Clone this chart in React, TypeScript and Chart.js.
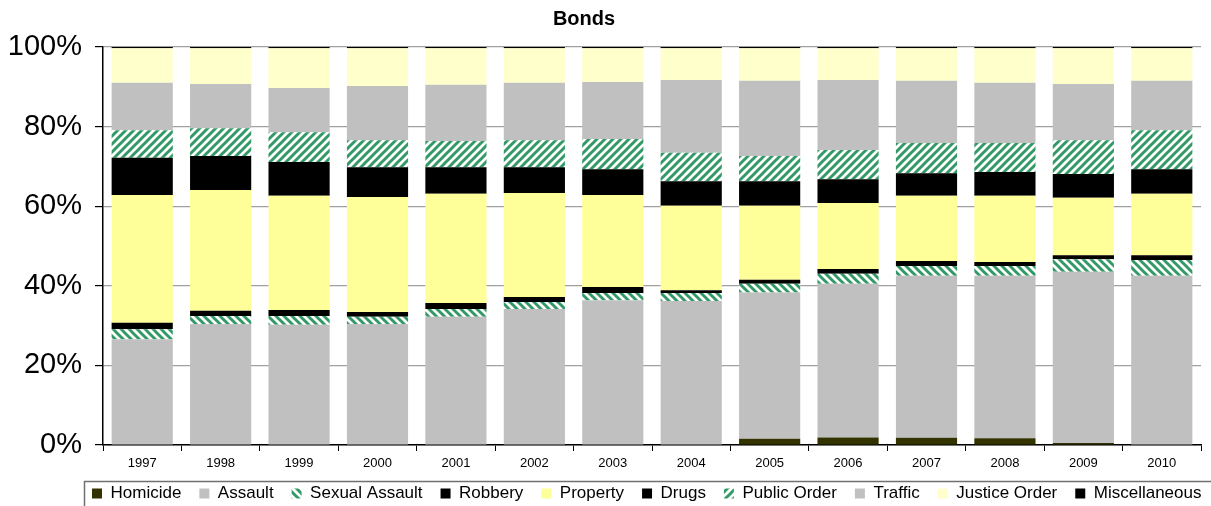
import React, { useEffect, useRef } from "react";
import { Chart, registerables } from "chart.js";

Chart.register(...registerables);

const years = ["1997","1998","1999","2000","2001","2002","2003","2004","2005","2006","2007","2008","2009","2010"];
const homicide = [0,0,0,0,0,0,0,0,1.6,1.9,1.8,1.7,0.5,0.1];
const assault = [26.6,30.4,30.2,30.4,32.2,34.2,36.4,36.2,36.7,38.6,40.7,40.8,43.0,42.4];
const sexualAssault = [2.5,2.0,2.2,1.8,2.0,1.7,1.8,2.0,2.2,2.5,2.5,2.5,3.2,4.0];
const robbery = [1.6,1.3,1.5,1.2,1.5,1.3,1.5,0.7,1.0,1.2,1.2,1.0,1.0,1.2];
const property = [32.1,30.4,28.7,28.9,27.4,26.1,23.1,21.2,18.6,16.6,16.4,16.6,14.4,15.4];
const drugs = [9.4,8.5,8.5,7.5,6.7,6.5,6.5,6.2,6.2,6.0,5.7,6.0,6.0,6.2];
const publicOrder = [6.9,7.0,7.5,6.8,6.6,6.8,7.6,7.1,6.3,7.3,7.6,7.3,8.5,9.8];
const traffic = [11.9,11.1,11.1,13.6,14.1,14.4,14.3,18.3,18.9,17.6,15.6,15.1,14.1,12.4];
const justiceOrder = [8.7,9.0,10.0,9.5,9.2,8.7,8.5,8.0,8.2,8.0,8.2,8.7,9.0,8.2];
const miscellaneous = [0.3,0.3,0.3,0.3,0.3,0.3,0.3,0.3,0.3,0.3,0.3,0.3,0.3,0.3];
const yTicks = [0,20,40,60,80,100];
const chartTitle = "Bonds";

const FONT = "'Liberation Sans', Arial, sans-serif";

function makeStripe(up: boolean): CanvasPattern | string {
  const c = document.createElement("canvas");
  c.width = 8;
  c.height = 8;
  const ctx = c.getContext("2d");
  if (!ctx) return "#339966";
  ctx.fillStyle = "#ffffff";
  ctx.fillRect(0, 0, 8, 8);
  ctx.strokeStyle = "#339966";
  ctx.lineWidth = 3;
  for (let k = -16; k <= 16; k += 8) {
    ctx.beginPath();
    if (up) {
      ctx.moveTo(k - 4, 12);
      ctx.lineTo(k + 12, -4);
    } else {
      ctx.moveTo(k - 4, -4);
      ctx.lineTo(k + 12, 12);
    }
    ctx.stroke();
  }
  const p = ctx.createPattern(c, "repeat");
  return p || "#339966";
}

const layoutTweaks = {
  id: "layoutTweaks",
  beforeLayout(chart: any) {
    const lg = chart.legend;
    if (lg && !lg.__wrapped) {
      const orig = lg.fit.bind(lg);
      lg.fit = function () {
        orig();
        this.height = 31;
      };
      lg.__wrapped = true;
    }
  },
  afterLayout(chart: any) {
    const lg = chart.legend;
    if (!lg) return;
    lg.top = 467;
    lg.bottom = 540;
    lg.height = 73;
    lg.left = 74;
    lg.right = 1320;
    lg.width = 1246;
  },
  afterDraw(chart: any) {
    const ctx = chart.ctx;
    ctx.save();
    ctx.strokeStyle = "#707070";
    ctx.lineWidth = 1.5;
    ctx.strokeRect(84.5, 481.5, 1160, 40);
    ctx.fillStyle = "#000";
    ctx.font = "bold 20px " + FONT;
    ctx.textAlign = "center";
    ctx.textBaseline = "alphabetic";
    ctx.fillText(chartTitle, 584, 25);
    ctx.restore();
  },
};

export default function App() {
  const ref = useRef<HTMLCanvasElement | null>(null);
  useEffect(() => {
    document.body.style.margin = "0";
    if (!ref.current) return;
    const saPat = makeStripe(false);
    const poPat = makeStripe(true);
    const mk = (label: string, data: number[], color: any) => ({
      label,
      data,
      backgroundColor: color,
      borderWidth: 0,
      categoryPercentage: 1,
      barPercentage: 0.78,
    });
    const chart = new Chart(ref.current, {
      type: "bar",
      data: {
        labels: years,
        datasets: [
          mk("Homicide", homicide, "#333300"),
          mk("Assault", assault, "#C0C0C0"),
          mk("Sexual Assault", sexualAssault, saPat),
          mk("Robbery", robbery, "#000000"),
          mk("Property", property, "#FFFF99"),
          mk("Drugs", drugs, "#000000"),
          mk("Public Order", publicOrder, poPat),
          mk("Traffic", traffic, "#C0C0C0"),
          mk("Justice Order", justiceOrder, "#FFFFCC"),
          mk("Miscellaneous", miscellaneous, "#000000"),
        ],
      },
      plugins: [layoutTweaks],
      options: {
        animation: false,
        responsive: false,
        maintainAspectRatio: false,
        layout: { padding: { left: 0, right: 10, top: 47, bottom: 0 } },
        plugins: {
          title: { display: false },
          legend: {
            position: "bottom",
            align: "start",
            labels: {
              color: "#000",
              boxWidth: 10,
              boxHeight: 10,
              padding: 18,
              font: { family: FONT, size: 17 },
            },
          },
          tooltip: { enabled: false },
        },
        scales: {
          x: {
            stacked: true,
            afterFit: (axis: any) => {
              axis.height = 30;
            },
            grid: {
              display: true,
              drawOnChartArea: true,
              drawTicks: true,
              tickLength: 6,
              color: (ctx: any) => (ctx.index === years.length ? "#A0A0A0" : "rgba(0,0,0,0)"),
              tickColor: "#000",
              offset: true,
            },
            border: { color: "#000", width: 1.5 },
            ticks: {
              color: "#000",
              padding: 5,
              maxRotation: 0,
              font: { family: FONT, size: 13 },
            },
          },
          y: {
            stacked: true,
            min: 0,
            max: 100,
            afterFit: (axis: any) => {
              axis.width = 103;
            },
            afterBuildTicks: (axis: any) => {
              axis.ticks = yTicks.map((v) => ({ value: v }));
            },
            grid: {
              color: "#A0A0A0",
              tickColor: "#000",
              tickLength: 8,
              lineWidth: 1.2,
            },
            border: { color: "#000", width: 1.5 },
            ticks: {
              color: "#000",
              padding: 13,
              callback: (v: any) => v + "%",
              font: { family: FONT, size: 29 },
            },
          },
        },
      },
    });
    return () => chart.destroy();
  }, []);
  return (
    <div style={{ position: "absolute", left: 0, top: 0, width: 1211, height: 506, background: "#fff" }}>
      <canvas ref={ref} width={1211} height={506} style={{ width: 1211, height: 506 }} />
    </div>
  );
}
